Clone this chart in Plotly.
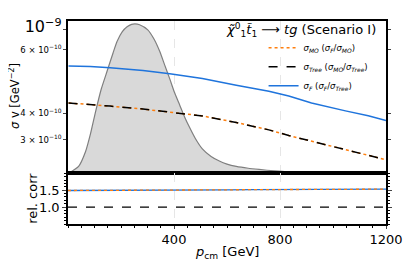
import plotly.graph_objects as go

# ---- data ----
p_dist = [2, 40, 66, 85, 103, 125, 148, 170, 185, 205, 223, 240, 253, 270, 301, 325, 346, 365, 384, 402, 421, 440, 459, 480, 507, 540, 571, 600, 635, 680, 721, 780, 833, 900, 950]
dist = [0.0, 0.045, 0.141, 0.26, 0.397, 0.55, 0.673, 0.79, 0.865, 0.93, 0.962, 0.978, 0.981, 0.975, 0.942, 0.88, 0.801, 0.71, 0.62, 0.53, 0.45, 0.37, 0.30, 0.23, 0.16, 0.11, 0.08, 0.06, 0.045, 0.033, 0.025, 0.015, 0.008, 0.003, 0.0]

p_F = [2, 84, 159, 283, 384, 507, 635, 758, 833, 919, 1047, 1133, 1200]
sigma_F = [6.70e-10, 6.67e-10, 6.58e-10, 6.39e-10, 6.17e-10, 5.85e-10, 5.43e-10, 5.09e-10, 4.83e-10, 4.48e-10, 4.11e-10, 3.90e-10, 3.70e-10]

p_MO = [2, 84, 159, 283, 384, 507, 635, 758, 833, 919, 1047, 1133, 1200]
sigma_MO = [4.48e-10, 4.41e-10, 4.33e-10, 4.19e-10, 4.04e-10, 3.89e-10, 3.62e-10, 3.34e-10, 3.14e-10, 2.95e-10, 2.68e-10, 2.53e-10, 2.41e-10]
sigma_Tree = [4.48e-10, 4.41e-10, 4.33e-10, 4.19e-10, 4.04e-10, 3.89e-10, 3.62e-10, 3.34e-10, 3.14e-10, 2.95e-10, 2.68e-10, 2.53e-10, 2.41e-10]

p_ratio = [0, 100, 200, 300, 400, 500, 600, 700, 800, 900, 1000, 1100, 1200]
ratio_F_MO = [1.49, 1.49, 1.495, 1.495, 1.50, 1.505, 1.51, 1.515, 1.515, 1.52, 1.525, 1.53, 1.53]
ratio_MO_Tree = [1.0, 1.0, 1.0, 1.0, 1.0, 1.0, 1.0, 1.0, 1.0, 1.0, 1.0, 1.0, 1.0]
ratio_F_Tree = [1.49, 1.49, 1.495, 1.495, 1.50, 1.505, 1.51, 1.515, 1.515, 1.52, 1.525, 1.53, 1.53]

ytick_vals = [3e-10, 4e-10, 8e-10, 1e-9]
ytick_text = ["3 × 10<sup>−10</sup>", "4 × 10<sup>−10</sup>", "6 × 10<sup>−10</sup>",
              "<span style='font-size:16px'>10<sup>−9</sup></span>"]
xtick_vals = [400, 800, 1200]
rtick_vals = [1.0, 1.5]
rtick_text = ["1.0", "1.5"]

ORANGE = "#ff7f0e"
BLUE = "#1f74dc"
FONT = "DejaVu Sans"

fig = go.Figure()

# distribution (linear, hidden axis)
fig.add_trace(go.Scatter(x=p_dist, y=dist, xaxis="x", yaxis="y", mode="lines",
                         line=dict(color="#7f7f7f", width=1.2, shape="spline", smoothing=0.6),
                         fill="tozeroy", fillcolor="#d9d9d9", showlegend=False, hoverinfo="skip"))

# top panel curves
fig.add_trace(go.Scatter(x=p_MO, y=sigma_MO, xaxis="x", yaxis="y3", mode="lines",
                         line=dict(color=ORANGE, width=1.5, dash="dot"),
                         name="<i>σ<sub>MO</sub></i> (<i>σ<sub>F</sub></i>/<i>σ<sub>MO</sub></i>)"))
fig.add_trace(go.Scatter(x=p_MO, y=sigma_Tree, xaxis="x", yaxis="y3", mode="lines",
                         line=dict(color="black", width=1.5, dash="dash"),
                         name="<i>σ<sub>Tree</sub></i> (<i>σ<sub>MO</sub></i>/<i>σ<sub>Tree</sub></i>)"))
fig.add_trace(go.Scatter(x=p_F, y=sigma_F, xaxis="x", yaxis="y3", mode="lines",
                         line=dict(color=BLUE, width=1.5),
                         name="<i>σ<sub>F</sub></i> (<i>σ<sub>F</sub></i>/<i>σ<sub>Tree</sub></i>)"))

# bottom panel ratios
fig.add_trace(go.Scatter(x=p_ratio, y=ratio_MO_Tree, xaxis="x2", yaxis="y2", mode="lines",
                         line=dict(color="black", width=1.3, dash="dash"), showlegend=False))
fig.add_trace(go.Scatter(x=p_ratio, y=ratio_F_Tree, xaxis="x2", yaxis="y2", mode="lines",
                         line=dict(color=BLUE, width=1.3), showlegend=False))
fig.add_trace(go.Scatter(x=p_ratio, y=ratio_F_MO, xaxis="x2", yaxis="y2", mode="lines",
                         line=dict(color=ORANGE, width=1.3, dash="dot"), showlegend=False))

grid = dict(showgrid=True, gridcolor="#e6e6e6", griddash="dash", gridwidth=1)

fig.update_layout(
    width=403, height=258,
    margin=dict(l=60, r=23, t=8, b=42),
    paper_bgcolor="white", plot_bgcolor="white",
    font=dict(family=FONT, color="black", size=13),
    xaxis=dict(domain=[0, 1], anchor="y", range=[0, 1200], tickvals=xtick_vals,
               showticklabels=False, ticks="", showline=True, linecolor="black",
               linewidth=1.5, mirror=True, zeroline=False, **grid),
    yaxis=dict(domain=[0.25, 1], anchor="x", range=[0, 1], visible=False, showgrid=False,
               zeroline=False),
    yaxis3=dict(overlaying="y", anchor="x", side="left", type="log",
                range=[-9.682, -8.960], tickvals=ytick_vals, ticktext=ytick_text,
                tickfont=dict(size=8.5), ticks="outside", ticklen=3, tickwidth=1,
                showline=True, linecolor="black", linewidth=1.5, mirror="ticks",
                showgrid=False, zeroline=False),
    xaxis2=dict(domain=[0, 1], anchor="y2", range=[0, 1200], matches="x",
                tickvals=xtick_vals, ticks="outside", ticklen=3, tickwidth=1,
                minor=dict(dtick=50, ticks="outside", ticklen=2.5, tickwidth=1, tickcolor="black"),
                showline=True, linecolor="black", linewidth=1.5, mirror=True,
                zeroline=False, tickfont=dict(size=13), **grid),
    yaxis2=dict(domain=[0, 0.25], anchor="x2", range=[0.5, 2.0], tickvals=rtick_vals,
                ticktext=rtick_text, ticks="outside", ticklen=4, tickwidth=1,
                minor=dict(dtick=0.1, tick0=0, ticks="outside", ticklen=2.5, tickwidth=1,
                           tickcolor="black"),
                showline=True, linecolor="black", linewidth=1.5, mirror="allticks",
                showgrid=False, zeroline=False, tickfont=dict(size=13)),
    legend=dict(x=0.615, y=0.94, xanchor="left", yanchor="top",
                bgcolor="rgba(0,0,0,0)", font=dict(size=8.5, family=FONT),
                tracegroupgap=0, itemwidth=30),
    annotations=[
        dict(text="<i>χ̃</i><sup>0</sup><sub>1</sub><i>t̃</i><sub>1</sub> ⟶ <i>tg</i> (Scenario I)",
             xref="paper", yref="paper", x=0.975, y=0.955, xanchor="right", yanchor="middle",
             showarrow=False, font=dict(size=13)),
        dict(text="<i>σ</i> v [GeV<sup>−2</sup>]", xref="paper", yref="paper",
             x=-0.17, y=0.63, xanchor="center", yanchor="middle", textangle=-90,
             showarrow=False, font=dict(size=11.5)),
        dict(text="rel. corr", xref="paper", yref="paper",
             x=-0.1125, y=0.125, xanchor="center", yanchor="middle", textangle=-90,
             showarrow=False, font=dict(size=13)),
        dict(text="<i>p</i><sub>cm</sub> [GeV]", xref="paper", yref="paper",
             x=0.5, y=-0.14, xanchor="center", yanchor="middle",
             showarrow=False, font=dict(size=13)),
    ],
)

fig.write_html("out.html")
